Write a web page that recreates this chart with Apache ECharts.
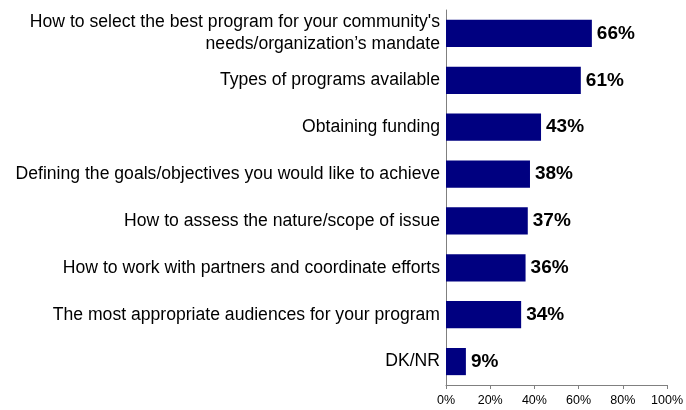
<!DOCTYPE html>
<html>
<head>
<meta charset="utf-8">
<script src="https://cdn.jsdelivr.net/npm/echarts@6/dist/echarts.min.js"></script>
<style>
  html, body { margin: 0; padding: 0; background: #fff; }
  #chart { width: 686px; height: 410px; }
</style>
</head>
<body>
<div id="chart"></div>
<script>
// Topics, listed top to bottom
const categories = [
  "How to select the best program for your community's\nneeds/organization\u2019s mandate",
  "Types of programs available",
  "Obtaining funding",
  "Defining the goals/objectives you would like to achieve",
  "How to assess the nature/scope of issue",
  "How to work with partners and coordinate efforts",
  "The most appropriate audiences for your program",
  "DK/NR"
];
// Share of respondents (%)
const values = [66, 61, 43, 38, 37, 36, 34, 9];
// Horizontal axis ticks (%)
const xTicks = [0, 20, 40, 60, 80, 100];

const FONT = 'Liberation Sans, Arial, sans-serif';

const chart = echarts.init(document.getElementById('chart'), null, { renderer: 'canvas' });
chart.setOption({
  animation: false,
  grid: { left: 446, right: 17, top: 10, bottom: 25, containLabel: false },
  xAxis: {
    type: 'value',
    min: xTicks[0],
    max: xTicks[xTicks.length - 1],
    interval: xTicks[1] - xTicks[0],
    axisLine: { show: true, lineStyle: { color: '#808080', width: 1 } },
    axisTick: { show: true, length: 4, lineStyle: { color: '#808080' } },
    splitLine: { show: false },
    axisLabel: {
      formatter: v => v + '%',
      color: '#000',
      fontFamily: FONT,
      fontSize: 12.5,
      margin: 9
    }
  },
  yAxis: {
    type: 'category',
    inverse: true,
    data: categories,
    axisLine: { show: true, lineStyle: { color: '#808080', width: 1 } },
    axisTick: { show: false },
    axisLabel: {
      color: '#000',
      fontFamily: FONT,
      fontSize: 17.6,
      lineHeight: 22,
      align: 'right',
      margin: 6
    }
  },
  series: [{
    type: 'bar',
    data: values,
    barCategoryGap: '42%',
    itemStyle: { color: '#000080' },
    label: {
      show: true,
      position: 'right',
      distance: 5,
      formatter: p => p.value + '%',
      color: '#000',
      fontWeight: 'bold',
      fontFamily: FONT,
      fontSize: 19
    }
  }]
});
</script>
</body>
</html>
